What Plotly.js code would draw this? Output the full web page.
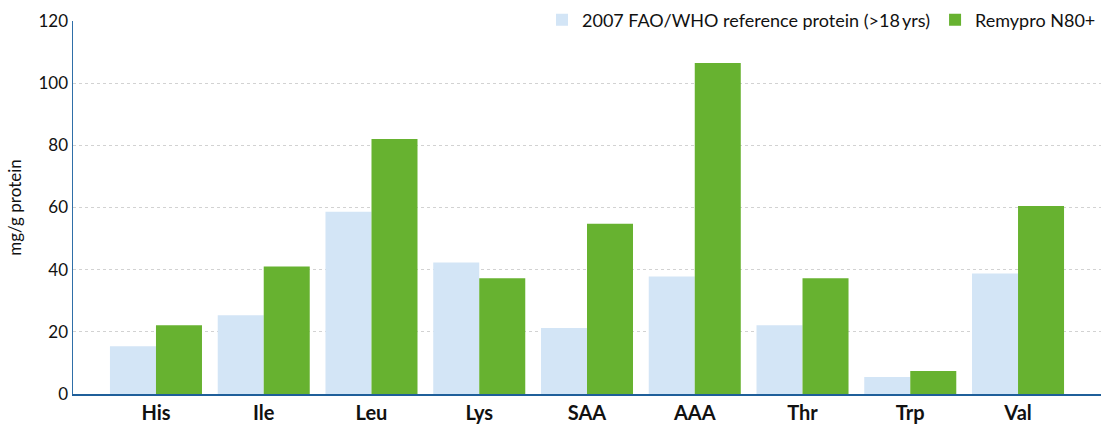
<!DOCTYPE html>
<html>
<head>
<meta charset="utf-8">
<script src="https://cdn.plot.ly/plotly-3.0.1.min.js"></script>
<style>html,body{margin:0;padding:0;background:#fff;}#chart{width:1103px;height:426px;}</style>
</head>
<body>
<div id="chart"></div>
<script>
const categories = ["His", "Ile", "Leu", "Lys", "SAA", "AAA", "Thr", "Trp", "Val"];
const referenceValues = [15.4, 25.3, 58.6, 42.3, 21.2, 37.8, 22.1, 5.5, 38.8];
const remyproValues = [22.1, 41.0, 82.0, 37.2, 54.8, 106.5, 37.2, 7.4, 60.5];
const seriesNames = ["2007 FAO/WHO reference protein (>18\u2009yrs)", "Remypro N80+"];
const yTicks = [0, 20, 40, 60, 80, 100, 120];

const font = "Lato, 'Open Sans', sans-serif";
const data = [
  {type: "bar", x: categories, y: referenceValues, name: seriesNames[0],
   marker: {color: "#d3e5f6"}},
  {type: "bar", x: categories, y: remyproValues, name: seriesNames[1],
   marker: {color: "#67b230"}}
];
const layout = {
  width: 1103, height: 426,
  margin: {l: 73, r: 2, t: 20, b: 32},
  paper_bgcolor: "#fff", plot_bgcolor: "#fff",
  barmode: "group", bargap: 0.146, bargroupgap: 0,
  font: {family: font, color: "#111"},
  showlegend: true,
  legend: {orientation: "h", x: 1, xanchor: "right", y: 1.0, yanchor: "middle",
           bgcolor: "#fff", font: {size: 18, family: font, color: "#111"},
           itemwidth: 30, traceorder: "normal"},
  xaxis: {range: [-0.77, 8.77], showline: true, linecolor: "#1f5f9a", linewidth: 2,
          showgrid: false, ticks: "", zeroline: false,
          tickfont: {size: 20, family: font, color: "#111", weight: "bold"}},
  yaxis: {range: [0, 120], tickvals: yTicks, showline: true, linecolor: "#2f6fa8", linewidth: 1.5,
          showgrid: true, gridcolor: "#d2d2d2", griddash: "dot", gridwidth: 1,
          zeroline: false, ticks: "", ticklen: 0, tickfont: {size: 17, family: font, color: "#111"},
          title: {text: "mg/g protein", font: {size: 17, family: font, color: "#111"}, standoff: 12}}
};
Plotly.newPlot("chart", data, layout, {displayModeBar: false, staticPlot: true});
</script>
</body>
</html>
